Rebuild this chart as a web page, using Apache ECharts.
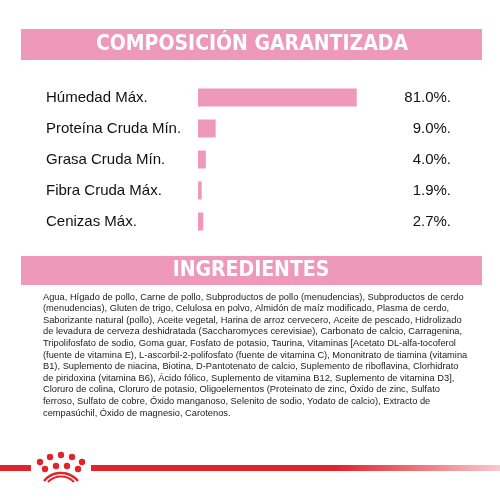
<!DOCTYPE html>
<html><head><meta charset="utf-8">
<script src="https://cdn.jsdelivr.net/npm/echarts@6/dist/echarts.min.js"></script>
<style>html,body{margin:0;padding:0;background:#fff}#c{width:500px;height:500px}</style>
</head><body><div id="c"></div>
<script>
const categories = ["Húmedad Máx.", "Proteína Cruda Mín.", "Grasa Cruda Mín.", "Fibra Cruda Máx.", "Cenizas Máx."];
const values = [81.0, 9.0, 4.0, 1.9, 2.7];
const valueLabels = ["81.0%.", "9.0%.", "4.0%.", "1.9%.", "2.7%."];
const ingredientLines = [
"Agua, Hígado de pollo, Carne de pollo, Subproductos de pollo (menudencias), Subproductos de cerdo",
"(menudencias), Gluten de trigo, Celulosa en polvo, Almidón de maíz modificado, Plasma de cerdo,",
"Saborizante natural (pollo), Aceite vegetal, Harina de arroz cervecero, Aceite de pescado, Hidrolizado",
"de levadura de cerveza deshidratada (Saccharomyces cerevisiae), Carbonato de calcio, Carragenina,",
"Tripolifosfato de sodio, Goma guar, Fosfato de potasio, Taurina, Vitaminas [Acetato DL-alfa-tocoferol",
"(fuente de vitamina E), L-ascorbil-2-polifosfato (fuente de vitamina C), Mononitrato de tiamina (vitamina",
"B1), Suplemento de niacina, Biotina, D-Pantotenato de calcio, Suplemento de riboflavina, Clorhidrato",
"de piridoxina (vitamina B6), Ácido fólico, Suplemento de vitamina B12, Suplemento de vitamina D3],",
"Cloruro de colina, Cloruro de potasio, Oligoelementos (Proteinato de zinc, Óxido de zinc, Sulfato",
"ferroso, Sulfato de cobre, Óxido manganoso, Selenito de sodio, Yodato de calcio), Extracto de",
"cempasúchil, Óxido de magnesio, Carotenos."
];
const pink = '#ee99b9';
const chart = echarts.init(document.getElementById('c'));
const g = [];
g.push({type:'rect',shape:{x:21,y:29,width:461,height:31},style:{fill:pink}});
g.push({type:'text',x:252,y:45,style:{text:'COMPOSICIÓN GARANTIZADA',fill:'#fff',font:'bold 21px "DejaVu Sans Condensed", "DejaVu Sans"',align:'center',verticalAlign:'middle'}});
g.push({type:'rect',shape:{x:21,y:256,width:461,height:29},style:{fill:pink}});
g.push({type:'text',x:251,y:271,style:{text:'INGREDIENTES',fill:'#fff',font:'bold 21px "DejaVu Sans Condensed", "DejaVu Sans"',align:'center',verticalAlign:'middle'}});
ingredientLines.forEach((l,i)=>{
  g.push({type:'text',x:43,y:297+i*11.6,style:{text:l,fill:'#222',font:'9.3px "Liberation Sans", Arial',align:'left',verticalAlign:'middle'}});
});
g.push({type:'rect',shape:{x:0,y:465,width:31,height:6},style:{fill:'#e1232c'}});
g.push({type:'rect',shape:{x:91,y:465,width:409,height:6},style:{fill:new echarts.graphic.LinearGradient(0,0,1,0,[{offset:0,color:'#e1232c'},{offset:0.6,color:'#e1232c'},{offset:1,color:'#f7c9cf'}])}});
[[40,462],[50,457],[61,455],[72,457],[82,462],[45,469],[56,466],[67,466],[78,469]].forEach(p=>{
  g.push({type:'circle',shape:{cx:p[0],cy:p[1],r:3.2},style:{fill:'#e1232c'}});
});
g.push({type:'arc',shape:{cx:61,cy:495,r:22,startAngle:Math.PI*1.22,endAngle:Math.PI*1.78},style:{stroke:'#e1232c',lineWidth:2.5,fill:null}});
g.push({type:'arc',shape:{cx:61,cy:495,r:18.5,startAngle:Math.PI*1.25,endAngle:Math.PI*1.75},style:{stroke:'#e1232c',lineWidth:2,fill:null}});
chart.setOption({
  animation:false,
  grid:{left:198,top:82,width:196,height:155},
  xAxis:{type:'value',min:0,max:100,show:false},
  yAxis:[
    {type:'category',data:categories,inverse:true,axisLine:{show:false},axisTick:{show:false},
     axisLabel:{align:'left',margin:152,color:'#111',fontSize:15,fontFamily:'"Liberation Sans", Arial'}},
    {type:'category',data:valueLabels,inverse:true,position:'right',axisLine:{show:false},axisTick:{show:false},
     axisLabel:{align:'right',margin:57,color:'#111',fontSize:15,fontFamily:'"Liberation Sans", Arial'}}
  ],
  series:[{type:'bar',data:values,barWidth:18,itemStyle:{color:pink}}],
  graphic:g
});
</script></body></html>
